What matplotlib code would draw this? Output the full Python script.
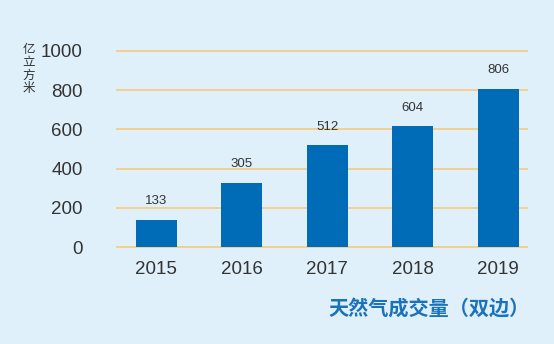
import matplotlib
matplotlib.use("Agg")
import matplotlib.pyplot as plt

years = ["2015", "2016", "2017", "2018", "2019"]
bar_heights = [138, 328, 518, 615, 805]  # heights as drawn in the picture
value_labels = ["133", "305", "512", "604", "806"]
yticks = [0, 200, 400, 600, 800, 1000]

BG = "#dff0fb"
BAR = "#006cb8"
GRID = "#f5cb78"
TXT = "#333333"

plt.rcParams["font.family"] = ["Liberation Sans", "Noto Sans CJK SC", "DejaVu Sans"]

fig = plt.figure(figsize=(5.54, 3.44), dpi=100, facecolor=BG)
# axes spans y=-5..1010 so that the 0 and 1000 gridlines are not clipped
ax = fig.add_axes([116 / 554, 1 - 248 / 344, (528 - 116) / 554, (248 - 49) / 344], facecolor=BG)

x = range(len(years))
ax.bar(x, bar_heights, width=0.48, color=BAR, zorder=3)
for xi, h, lab in zip(x, bar_heights, value_labels):
    ax.annotate(lab, (xi, h), xytext=(0, 13.5), textcoords="offset points",
                ha="center", va="center", fontsize=9.5, color=TXT)

ax.set_xlim(-0.47, 4.35)
ax.set_ylim(-5, 1010)
ax.set_yticks(yticks)
ax.set_xticks(list(x))
ax.set_xticklabels(years)
ax.yaxis.grid(True, color=GRID, lw=1.2, zorder=0)
ax.set_axisbelow(True)
for s in ax.spines.values():
    s.set_visible(False)
ax.tick_params(length=0, labelsize=13.5, colors=TXT)
ax.tick_params(axis="y", pad=24)
ax.tick_params(axis="x", pad=9)

fig.text(29 / 554, 1 - 69 / 344, "亿\n立\n方\n米", family=["Noto Sans CJK SC"],
         fontsize=9, color=TXT, ha="center", va="center", linespacing=1.0)
fig.text(429 / 554, 1 - 308 / 344, "天然气成交量（双边）", family=["Noto Sans CJK SC"],
         fontsize=14.5, color="#1a72bb", ha="center", va="center", weight="bold")

fig.savefig("out.png", dpi=100, facecolor=BG)
